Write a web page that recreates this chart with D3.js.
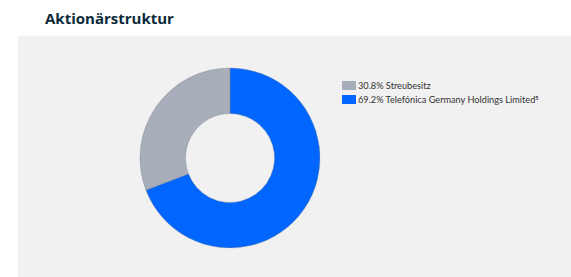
<!DOCTYPE html>
<html>
<head>
    <meta charset="utf-8">
    <script src="https://cdn.jsdelivr.net/npm/d3@7"></script>
    <style>
        body { margin: 0; background: #fff; }
        svg { display: block; }
    </style>
</head>
<body>
    <svg id="chart" width="571" height="277"></svg>
    <script>
        // data
        const labels = ["69.2% Telefónica Germany Holdings Limited", "30.8% Streubesitz"];
        const values = [69.2, 30.8];
        const colors = ["#0066ff", "#a8adba"];
        const legendOrder = [1, 0];

        const svg = d3.select("#chart");

        // title
        svg.append("text")
            .attr("x", 45).attr("y", 24)
            .text("Aktionärstruktur")
            .style("font-family", "'Open Sans', sans-serif")
            .style("font-weight", "bold")
            .style("font-size", "15px")
            .attr("fill", "#0c2a3a");

        // grey panel
        svg.append("rect")
            .attr("x", 18).attr("y", 36)
            .attr("width", 553).attr("height", 241)
            .attr("fill", "#f1f1f1");

        // donut
        const pie = d3.pie().sort(null).value(d => d);
        const arc = d3.arc().innerRadius(44.5).outerRadius(90);

        const donut = svg.append("g").attr("transform", "translate(230,158)");
        donut.selectAll("path")
            .data(pie(values))
            .join("path")
            .attr("d", arc)
            .attr("fill", (d, i) => colors[i])
            .attr("stroke", "#7a8090")
            .attr("stroke-width", 0.4);

        // legend
        const legend = svg.append("g").attr("transform", "translate(342,81)");
        const items = legend.selectAll("g")
            .data(legendOrder)
            .join("g")
            .attr("transform", (d, i) => `translate(0,${i * 14})`);

        items.append("rect")
            .attr("width", 14).attr("height", 9)
            .attr("fill", d => colors[d]);

        const txt = items.append("text")
            .attr("x", 16).attr("y", 8)
            .style("font-family", "Lato, sans-serif")
            .style("font-size", "9.2px")
            .attr("fill", "#333");
        txt.append("tspan").text(d => labels[d]);
        txt.filter(d => d === 0).append("tspan")
            .attr("dy", -3).style("font-size", "5.5px")
            .style("font-weight", "bold")
            .text("5");
    </script>
</body>
</html>
